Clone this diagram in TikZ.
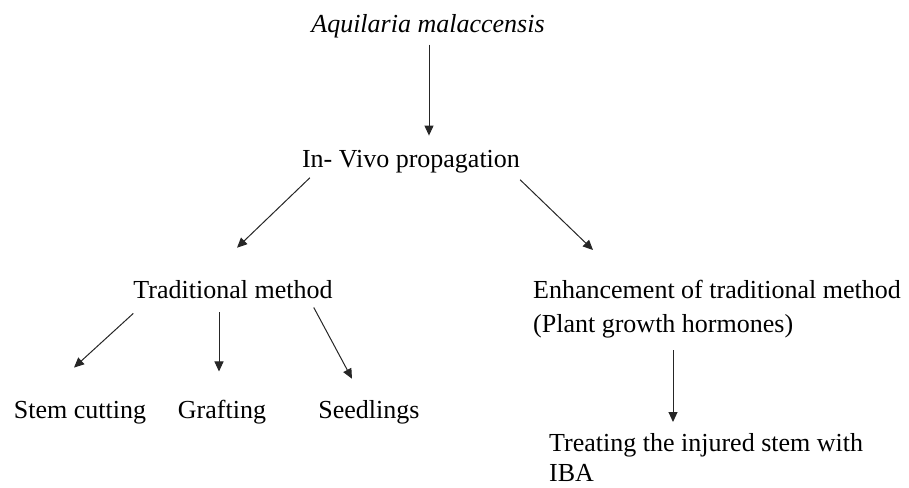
\documentclass[tikz,border=0pt]{standalone}
\usepackage{fontspec}
\setmainfont{Liberation Serif}
\usetikzlibrary{arrows.meta, positioning, calc}
\definecolor{ArrowGrey}{HTML}{262626}
\tikzset{
    % Plain text labels, no frame
    label text/.style={
        inner sep=0pt,
        font=\fontsize{26}{34}\selectfont
    },
    label block/.style={
        label text,
        align=left,
        anchor=north west
    },
    arrow style/.style={
        -{Triangle[length=10pt, width=9pt]},
        line width=1pt,
        ArrowGrey
    }
}
\begin{document}
\begin{tikzpicture}[x=1pt, y=-1pt]
        \useasboundingbox (0,0) rectangle (909,487);

        % Species
        \node[label text, anchor=base] (aq) at (428,33) {\itshape Aquilaria malaccensis};

        % Propagation
        \node[label text, anchor=base] (invivo) at (411,167) {In- Vivo propagation};

        % Two branches
        \node[label text, anchor=base] (trad) at (233,298) {Traditional method};
        \node[label block] (enh) at (533,280) {Enhancement of traditional method\\(Plant growth hormones)};

        % Traditional methods
        \node[label text, anchor=base] (stem) at (80,418) {Stem cutting};
        \node[label text, anchor=base] (graft) at (222,418) {Grafting};
        \node[label text, anchor=base] (seed) at (369,418) {Seedlings};

        % Hormone treatment
        \node[label block, font=\fontsize{26}{30}\selectfont] (treat) at (549,433) {Treating the injured stem with\\IBA};

        \draw[arrow style] ([yshift=-6pt]aq.south -| 429,0) -- ([yshift=14pt]invivo.north -| 429,0);
        \draw[arrow style] ([shift={(8,5)}]invivo.south west) -- ([shift={(4,-32)}]trad.north);
        \draw[arrow style] ([shift={(0,7)}]invivo.south east) -- ([shift={(60,-30)}]enh.north west);
        \draw[arrow style] ([shift={(0,15)}]trad.south west) -- ([shift={(-6,-33)}]stem.north);
        \draw[arrow style] ([shift={(-3,-87)}]graft.north) -- ([shift={(-3,-28)}]graft.north);
        \draw[arrow style] ([shift={(-19,9)}]trad.south east) -- ([shift={(-17,-21)}]seed.north);
        \draw[arrow style] ([shift={(140,12)}]enh.south west) -- ([shift={(124,-11)}]treat.north west);
    \end{tikzpicture}
\end{document}
